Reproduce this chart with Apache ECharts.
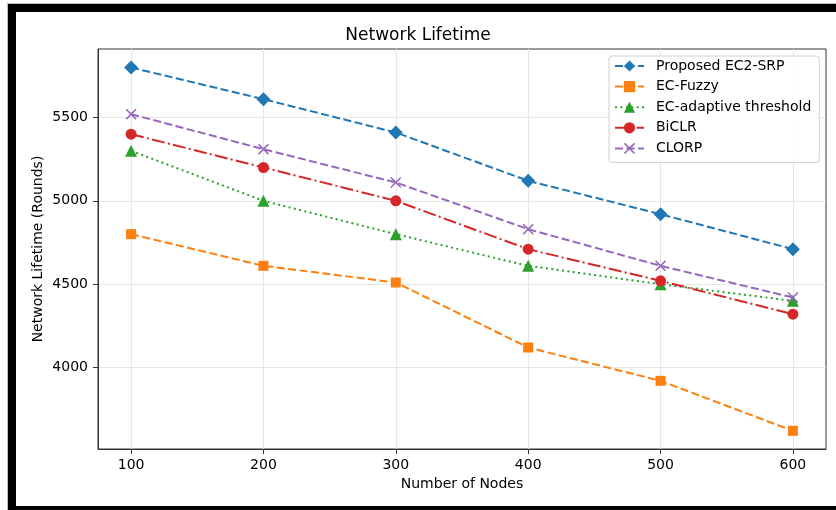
<!DOCTYPE html>
<html>
<head>
<meta charset="utf-8">
<script src="https://cdn.jsdelivr.net/npm/echarts@6/dist/echarts.min.js"></script>
<style>
  html, body { margin: 0; padding: 0; background: #fff; }
  #chart { width: 836px; height: 510px; }
</style>
</head>
<body>
<div id="chart"></div>
<script>
// Node counts on the x axis
const nodes = [100, 200, 300, 400, 500, 600];

// Network lifetime (rounds) per protocol
const proposedEC2SRP = [5800, 5610, 5410, 5120, 4920, 4710];
const ecFuzzy        = [4800, 4610, 4510, 4120, 3920, 3620];
const ecAdaptive     = [5300, 5000, 4800, 4610, 4500, 4400];
const biclr          = [5400, 5200, 5000, 4710, 4520, 4320];
const clorp          = [5520, 5310, 5110, 4830, 4610, 4420];

// Tick labels
const xTicks = [100, 200, 300, 400, 500, 600];
const yTicks = [4000, 4500, 5000, 5500];

const FONT = 'DejaVu Sans';
const xMarker = 'path://M0,1 L1,0 L5,4 L9,0 L10,1 L6,5 L10,9 L9,10 L5,6 L1,10 L0,9 L4,5 Z';

function pairs(ys) {
  return nodes.map((n, i) => [n, ys[i]]);
}

function makeSeries(name, ys, color, dash, symbol, size) {
  return {
    name: name,
    type: 'line',
    data: pairs(ys),
    symbol: symbol,
    symbolSize: size,
    showSymbol: true,
    animation: false,
    lineStyle: { color: color, width: 2, type: dash },
    itemStyle: { color: color, borderWidth: 0 },
    emphasis: { disabled: true }
  };
}

const chart = echarts.init(document.getElementById('chart'), null, { renderer: 'canvas' });

chart.setOption({
  backgroundColor: '#ffffff',
  animation: false,
  title: {
    text: 'Network Lifetime',
    left: 'center',
    top: 27,
    padding: 0,
    textStyle: { fontFamily: FONT, fontSize: 17, fontWeight: 'normal', color: '#000' }
  },
  grid: {
    left: 98, right: 10, top: 49, bottom: 61,
    show: true, borderColor: '#333', borderWidth: 1, backgroundColor: 'transparent'
  },
  legend: {
    orient: 'vertical',
    left: 609,
    top: 56,
    padding: [3, 8, 7, 5],
    itemWidth: 29,
    itemHeight: 14,
    itemGap: 6.6,
    borderColor: '#d0d0d0',
    borderWidth: 1,
    borderRadius: 3,
    backgroundColor: 'rgba(255,255,255,0.85)',
    textStyle: { fontFamily: FONT, fontSize: 14, color: '#000', lineHeight: 14, padding: [0, 0, 0, 7] },
    data: ['Proposed EC2-SRP', 'EC-Fuzzy', 'EC-adaptive threshold', 'BiCLR', 'CLORP']
  },
  xAxis: {
    type: 'value',
    min: 75,
    max: 625,
    name: 'Number of Nodes',
    nameLocation: 'middle',
    nameGap: 28,
    nameMoveOverlap: false,
    nameTextStyle: { fontFamily: FONT, fontSize: 14, color: '#000' },
    axisLine: { show: true, onZero: false, lineStyle: { color: '#333', width: 1 } },
    axisTick: { show: true, length: 5, customValues: xTicks, lineStyle: { color: '#333' } },
    axisLabel: { customValues: xTicks, margin: 9, fontFamily: FONT, fontSize: 14, color: '#000',
                 formatter: v => String(v) },
    splitLine: { show: true, lineStyle: { color: '#e6e6e6', width: 1 } }
  },
  yAxis: {
    type: 'value',
    min: 3511,
    max: 5911,
    name: 'Network Lifetime (Rounds)',
    nameLocation: 'middle',
    nameRotate: 90,
    nameGap: 53,
    nameMoveOverlap: false,
    nameTextStyle: { fontFamily: FONT, fontSize: 14, color: '#000' },
    axisLine: { show: true, onZero: false, lineStyle: { color: '#333', width: 1 } },
    axisTick: { show: true, length: 5, customValues: yTicks, lineStyle: { color: '#333' } },
    axisLabel: { customValues: yTicks, margin: 10, fontFamily: FONT, fontSize: 14, color: '#000',
                 formatter: v => String(v) },
    splitLine: { show: true, lineStyle: { color: '#e6e6e6', width: 1 } }
  },
  series: [
    makeSeries('Proposed EC2-SRP', proposedEC2SRP, '#1f77b4', [8, 3.5], 'diamond', 14),
    makeSeries('EC-Fuzzy', ecFuzzy, '#ff7f0e', [8, 3.5], 'rect', 10),
    makeSeries('EC-adaptive threshold', ecAdaptive, '#2ca02c', [2, 3.4], 'triangle', 12),
    makeSeries('BiCLR', biclr, '#d62728', [13, 3.3, 2, 3.3], 'circle', 11),
    makeSeries('CLORP', clorp, '#9467bd', [8, 3.5], xMarker, 11)
  ],
  graphic: [
    // frame around the figure
    { type: 'rect', shape: { x: 7, y: 3, width: 829, height: 1 }, style: { fill: '#bbbbbb' }, silent: true },
    { type: 'rect', shape: { x: 7, y: 3, width: 1, height: 507 }, style: { fill: '#bbbbbb' }, silent: true },
    { type: 'rect', shape: { x: 8, y: 4, width: 828, height: 8 }, style: { fill: '#000' }, silent: true },
    { type: 'rect', shape: { x: 8, y: 4, width: 8, height: 506 }, style: { fill: '#000' }, silent: true },
    { type: 'rect', shape: { x: 8, y: 506, width: 828, height: 4 }, style: { fill: '#000' }, silent: true }
  ]
});
</script>
</body>
</html>
